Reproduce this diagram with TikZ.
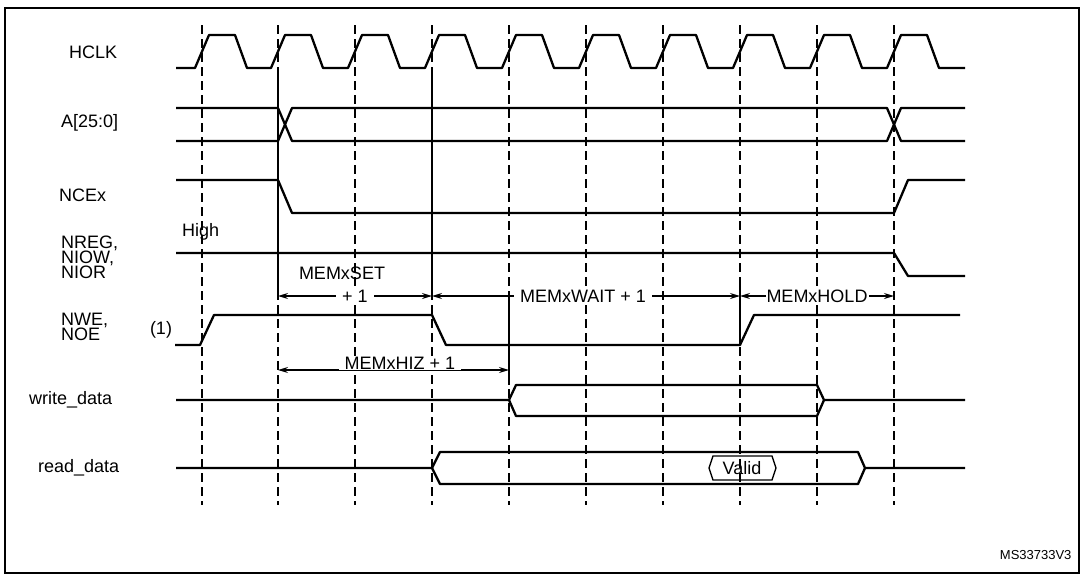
\documentclass[tikz,border=0pt]{standalone}
\usepackage{fontspec}
\setmainfont{Liberation Sans}
\usetikzlibrary{arrows.meta}
\begin{document}
\begin{tikzpicture}[x=1pt,y=-1pt,
  sig/.style={line width=2.3pt,line join=bevel},
  grid/.style={line width=1.2pt,dash pattern=on 9pt off 5pt},
  gsolid/.style={line width=1.3pt},
  dim/.style={line width=1.2pt,{Stealth[length=10pt,width=6pt]}-{Stealth[length=10pt,width=6pt]}},
  lbl/.style={font=\fontsize{18}{15}\selectfont,inner sep=1pt},
  txt/.style={font=\fontsize{18}{15}\selectfont,fill=white,inner xsep=6pt,inner ysep=1pt}]
\useasboundingbox (0,0) rectangle (1085,574);
\draw[line width=1.5pt] (5,8) rectangle (1079,573);
% grid
\foreach \x in {202,355,509,586,663,740,817,894}
  \draw[grid] (\x,25) -- (\x,505);
\foreach \x in {278,432}{\draw[grid] (\x,25) -- (\x,505); \draw[gsolid] (\x,75) -- (\x,300);}
\draw[gsolid] (509,296) -- (509,385);
\draw[gsolid] (740,285) -- (740,345);
% labels
\node[lbl,anchor=west] (lhclk) at (68,52) {HCLK};
\node[lbl,anchor=west] (la) at (60,123) {A[25:0]};
\node[lbl,anchor=west] (lnce) at (58,195) {NCEx};
\node[lbl,anchor=west,align=left] (lnreg) at (60,257) {NREG,\\NIOW,\\NIOR};
\node[lbl,anchor=west,align=left] (lnwe) at (60,327) {NWE,\\NOE};
\node[lbl] (l1) at (161,330) {(1)};
\node[lbl,anchor=west] (lwd) at (28,400) {write\_data};
\node[lbl,anchor=west] (lrd) at (37,468) {read\_data};
\node[lbl,anchor=west] (lhigh) at (181,232) {High};
\node[font=\fontsize{13}{13}\selectfont,anchor=east] (ms) at (1075,555) {MS33733V3};
% clock
\draw[sig] (176,68) \foreach \x in {202,278,355,432,509,586,663,740,817,894}{ -- (\x-7,68) -- (\x+7,35) -- (\x+33,35) -- (\x+45,68)} -- (965,68);
% address
\draw[sig] (176,108) -- (278,108) -- (292,141) -- (887,141) -- (901,108) -- (965,108);
\draw[sig] (176,141) -- (278,141) -- (292,108) -- (887,108) -- (901,141) -- (965,141);
% NCEx
\draw[sig] (176,180) -- (278,180) -- (292,213) -- (894,213) -- (908,180) -- (965,180);
% NREG
\draw[sig] (176,253) -- (894,253) -- (908,276) -- (965,276);
% NWE
\draw[sig] (175,345) -- (200,345) -- (214,315) -- (432,315) -- (446,345) -- (740,345) -- (754,315) -- (960,315);
% write_data
\draw[sig] (176,400) -- (509,400) -- (516,385) -- (817,385) -- (824,400) -- (965,400);
\draw[sig] (509,400) -- (516,416) -- (817,416) -- (824,400);
% read_data
\draw[sig] (176,468) -- (432,468) -- (440,452) -- (858,452) -- (865,468) -- (965,468);
\draw[sig] (432,468) -- (440,484) -- (858,484) -- (865,468);
\draw[line width=1.3pt] (713,456) -- (772,456) -- (776,468) -- (772,480) -- (713,480) -- (709,468) -- cycle;
\node[lbl] (valid) at (742,468) {Valid};
% dimensions
\coordinate (s1) at (278,296); \coordinate (s2) at (432,296);
\coordinate (w2) at (740,296); \coordinate (h2) at (894,296);
\coordinate (z1) at (278,370); \coordinate (z2) at (509,370);
\draw[dim] (s1) -- (s2);
\draw[dim] (s2) -- (w2);
\draw[dim] (w2) -- (h2);
\draw[dim] (z1) -- (z2);
\node[lbl] (tset) at (342,273) {MEMxSET};
\node[txt] (tset1) at (355,296) {+ 1};
\node[txt] (twait) at (583,296) {MEMxWAIT + 1};
\node[txt,inner xsep=1pt] (thold) at (817,296) {MEMxHOLD};
\node[txt] (thiz) at (400,363) {MEMxHIZ + 1};
\end{tikzpicture}
\end{document}
